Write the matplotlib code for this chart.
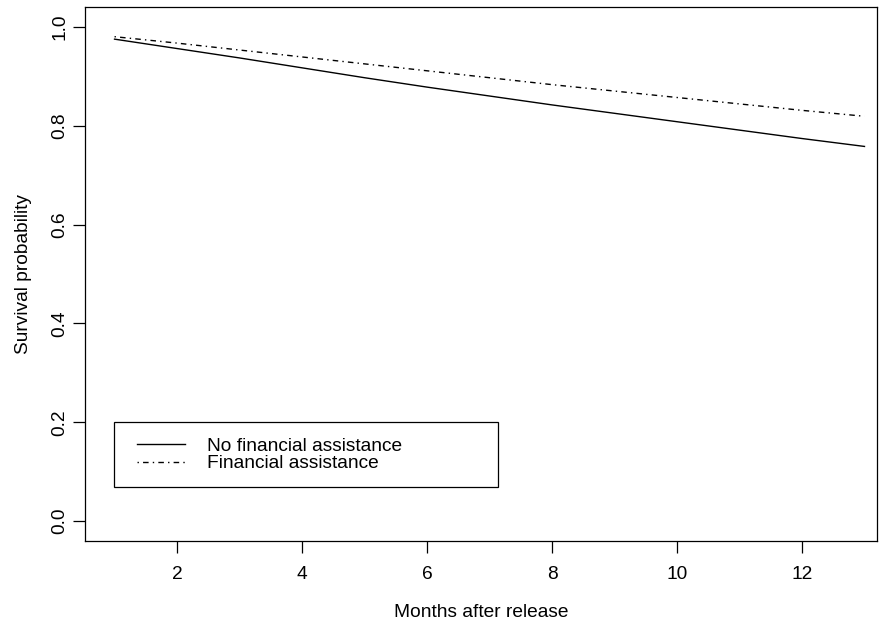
import matplotlib
matplotlib.use("Agg")
import matplotlib.pyplot as plt
from matplotlib.patches import Rectangle

months = [1, 2, 3, 4, 5, 6, 7, 8, 9, 10, 11, 12, 13]
no_assistance = [0.975, 0.956, 0.937, 0.917, 0.897, 0.878, 0.860, 0.842, 0.825, 0.808, 0.791, 0.774, 0.758]
assistance = [0.980, 0.967, 0.953, 0.939, 0.925, 0.911, 0.897, 0.883, 0.870, 0.857, 0.844, 0.831, 0.819]
x_ticks = [2, 4, 6, 8, 10, 12]
y_ticks = [0.0, 0.2, 0.4, 0.6, 0.8, 1.0]

plt.rcParams["font.family"] = ["Liberation Sans", "DejaVu Sans"]
plt.rcParams["font.size"] = 13.8

fig = plt.figure(figsize=(8.88, 6.26), dpi=100)
ax = fig.add_axes([0.0952, 0.1358, 0.8924, 0.853])

ax.plot(months, no_assistance, color="black", linewidth=1.0, label="No financial assistance")
ax.plot(months, assistance, color="black", linewidth=1.0, dashes=(1, 3, 4, 3), label="Financial assistance")

ax.set_xlim(0.52, 13.2)
ax.set_ylim(-0.04, 1.04)
ax.set_xticks(x_ticks)
ax.set_xticklabels([str(t) for t in x_ticks])
ax.set_yticks(y_ticks)
ax.set_yticklabels([f"{t:.1f}" for t in y_ticks], rotation=90, va="center", ha="center")
ax.tick_params(direction="out", length=8.3, width=0.9, color="black")
ax.tick_params(axis="x", pad=9.8)
ax.tick_params(axis="y", pad=9.3)
for spine in ax.spines.values():
    spine.set_linewidth(0.9)

ax.text(0.5, -0.133, "Months after release", transform=ax.transAxes, ha="center", va="center")
ax.text(-0.0776, 0.5, "Survival probability", transform=ax.transAxes, ha="center", va="center", rotation=90)

# legend box drawn separately so the padding can differ left/right and top/bottom
ax.add_patch(Rectangle((0.0376, 0.1017), 0.4842, 0.1206, transform=ax.transAxes,
                       fill=False, edgecolor="black", linewidth=0.9, zorder=5))
ax.legend(loc="center left", bbox_to_anchor=(0.0662, 0.161), frameon=False,
          handlelength=2.5, handletextpad=1.15, labelspacing=0.0, borderpad=0, borderaxespad=0)

fig.savefig("out.png", dpi=100)
